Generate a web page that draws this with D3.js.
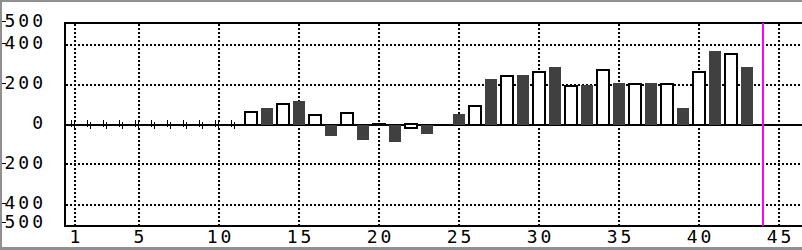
<!DOCTYPE html>
<html>
<head>
<meta charset="utf-8">
<script src="https://cdn.jsdelivr.net/npm/d3@7"></script>
<style>
  body { margin: 0; background: #fff; }
  svg { display: block; }
  text { font-family: "DejaVu Sans Mono", monospace; font-size: 18px; fill: #000; letter-spacing: 3px; }
</style>
</head>
<body>
<div id="chart"></div>
<script>
// race number along the bottom, value per race, bar style (w = hollow, d = dark, z = zero mark)
var days   = [1,2,3,4,5,6,7,8,9,10,11,12,13,14,15,16,17,18,19,20,21,22,23,24,25,26,27,28,29,30,31,32,33,34,35,36,37,38,39,40,41,42,43];
var values = [0,0,0,0,0,0,0,0,0,0,0,70,80,110,120,50,-55,60,-75,10,-85,-25,-45,null,55,100,230,250,250,270,290,200,200,280,210,210,210,210,80,270,370,360,290];
var kinds  = ["z","z","z","z","z","z","z","z","z","z","z","w","d","w","d","w","d","w","d","w","d","w","d","","d","w","d","w","d","w","d","w","d","w","d","w","d","w","d","w","d","w","d"];

var xTicks = [1,5,10,15,20,25,30,35,40,45];
var yTicks = [500,400,200,0,-200,-400,-500];
var yGrid = [400,200,-200,-400];
var marker = 44;   // magenta vertical line

var w = 802;
var h = 250;

var x = d3.scaleLinear().domain([1, 45]).range([75, 779]);
var y = d3.scaleLinear().domain([-507.5, 507.5]).range([226, 23]);
var yr = function(v) { return Math.round(y(v)); };

var svg = d3.select("#chart")
    .append("svg")
    .attr("width", w)
    .attr("height", h);

// outer grey border
svg.append("rect").attr("x", 0).attr("y", 0).attr("width", w).attr("height", 2).attr("fill", "#909090");
svg.append("rect").attr("x", 0).attr("y", 0).attr("width", 2).attr("height", h).attr("fill", "#909090");
svg.append("rect").attr("x", 0).attr("y", 247).attr("width", w).attr("height", 3).attr("fill", "#909090");

// dotted grid
svg.selectAll("line.vgrid")
    .data(xTicks)
    .enter()
    .append("line")
    .attr("class", "vgrid")
    .attr("x1", function(d) { return x(d); })
    .attr("x2", function(d) { return x(d); })
    .attr("y1", 24)
    .attr("y2", 225)
    .attr("stroke", "#000")
    .attr("stroke-width", 2)
    .attr("stroke-dasharray", "2,2");

svg.selectAll("line.hgrid")
    .data(yGrid)
    .enter()
    .append("line")
    .attr("class", "hgrid")
    .attr("x1", 66)
    .attr("x2", w)
    .attr("y1", function(d) { return yr(d); })
    .attr("y2", function(d) { return yr(d); })
    .attr("stroke", "#000")
    .attr("stroke-width", 2)
    .attr("stroke-dasharray", "2,2");

var rows = days.map(function(d, i) { return { day: d, v: values[i], k: kinds[i] }; });
var y0 = yr(0);

// zero line
svg.append("line")
    .attr("x1", 65).attr("x2", w)
    .attr("y1", y0).attr("y2", y0)
    .attr("stroke", "#000")
    .attr("stroke-width", 2);

// dark bars
svg.selectAll("rect.dark")
    .data(rows.filter(function(r) { return r.k === "d"; }))
    .enter()
    .append("rect")
    .attr("class", "dark")
    .attr("x", function(r) { return x(r.day) - 6; })
    .attr("width", 12)
    .attr("y", function(r) { return Math.min(yr(r.v), y0); })
    .attr("height", function(r) { return Math.abs(yr(r.v) - y0); })
    .attr("fill", "#404040");

// hollow bars
svg.selectAll("rect.hollow")
    .data(rows.filter(function(r) { return r.k === "w"; }))
    .enter()
    .append("rect")
    .attr("class", "hollow")
    .attr("x", function(r) { return x(r.day) - 6; })
    .attr("width", 12)
    .attr("y", function(r) { return r.v >= 0 ? yr(r.v) + 1 : y0 - 1; })
    .attr("height", function(r) { return Math.max(Math.abs(yr(r.v) - y0) - 1, 1); })
    .attr("fill", "#fff")
    .attr("stroke", "#000")
    .attr("stroke-width", 2);

// zero-value marks
var zeros = rows.filter(function(r) { return r.k === "z"; });
svg.selectAll("line.za")
    .data(zeros)
    .enter()
    .append("line")
    .attr("x1", function(r) { return x(r.day) - 3.5; })
    .attr("x2", function(r) { return x(r.day) - 3.5; })
    .attr("y1", y0 - 5)
    .attr("y2", y0 + 2)
    .attr("stroke", "#000")
    .attr("stroke-width", 1);
svg.selectAll("line.zb")
    .data(zeros)
    .enter()
    .append("line")
    .attr("x1", function(r) { return x(r.day) - 0.5; })
    .attr("x2", function(r) { return x(r.day) - 0.5; })
    .attr("y1", y0 - 3)
    .attr("y2", y0 + 4)
    .attr("stroke", "#000")
    .attr("stroke-width", 1);

// frame (top, left, bottom)
svg.append("line").attr("x1", 64).attr("x2", w).attr("y1", 23).attr("y2", 23).attr("stroke", "#000").attr("stroke-width", 2);
svg.append("line").attr("x1", 65).attr("x2", 65).attr("y1", 22).attr("y2", 227).attr("stroke", "#000").attr("stroke-width", 2);
svg.append("line").attr("x1", 64).attr("x2", w).attr("y1", 226).attr("y2", 226).attr("stroke", "#000").attr("stroke-width", 2);

// magenta line
svg.append("line")
    .attr("x1", x(marker)).attr("x2", x(marker))
    .attr("y1", 23).attr("y2", 226)
    .attr("stroke", "#ff00ff")
    .attr("stroke-width", 2);

// y labels
var yLabelPos = function(d) {
    if (d === 500) return 21;
    if (d === -500) return 222;
    return y(d) - 1.5;
};
svg.selectAll("text.ylab")
    .data(yTicks)
    .enter()
    .append("text")
    .attr("class", "ylab")
    .attr("x", 46)
    .attr("y", yLabelPos)
    .attr("dy", "0.36em")
    .attr("text-anchor", "end")
    .text(function(d) { return Math.abs(d); });

svg.selectAll("line.ytick")
    .data(yTicks.filter(function(d) { return d !== 0; }))
    .enter()
    .append("line")
    .attr("x1", 2).attr("x2", 6)
    .attr("y1", function(d) { return Math.round(yLabelPos(d)) + 0.5; })
    .attr("y2", function(d) { return Math.round(yLabelPos(d)) + 0.5; })
    .attr("stroke", "#000")
    .attr("stroke-width", 1);

// x labels
svg.selectAll("text.xlab")
    .data(xTicks)
    .enter()
    .append("text")
    .attr("class", "xlab")
    .attr("x", function(d) { return x(d) + 1.5; })
    .attr("y", 243)
    .attr("text-anchor", "middle")
    .text(function(d) { return d; });
</script>
</body>
</html>
